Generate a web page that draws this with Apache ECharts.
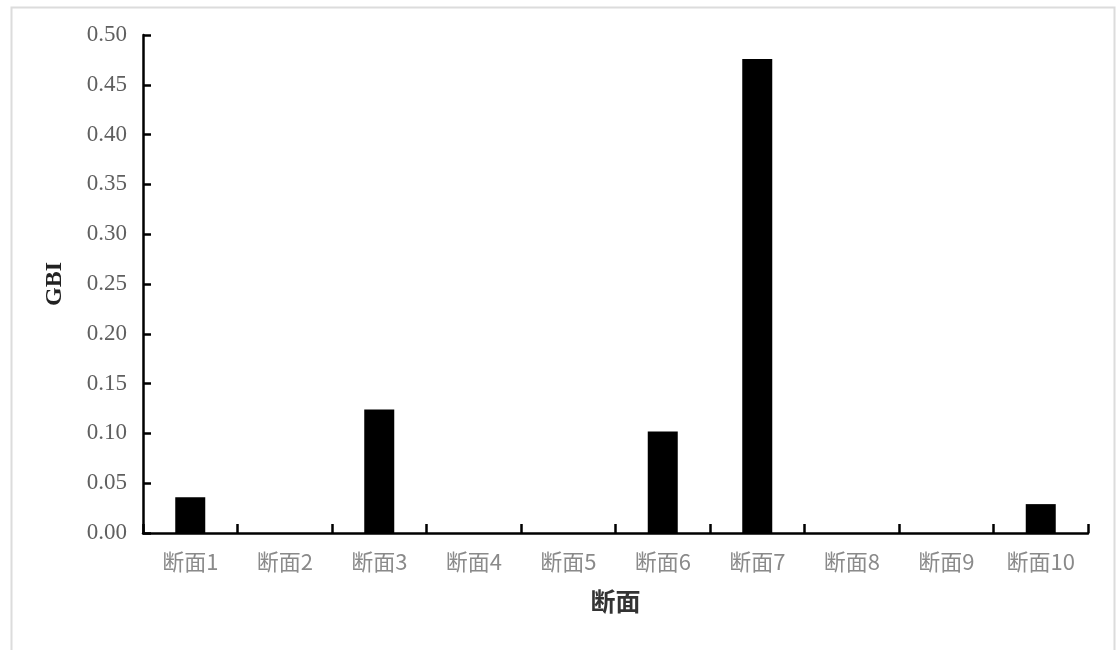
<!DOCTYPE html>
<html>
<head>
<meta charset="utf-8">
<script src="https://cdn.jsdelivr.net/npm/echarts@6/dist/echarts.min.js"></script>
<style>html,body{margin:0;padding:0;background:#fff;}#c{width:1117px;height:650px;}</style>
</head>
<body>
<div id="c"></div>
<script>
const categories = ['断面1','断面2','断面3','断面4','断面5','断面6','断面7','断面8','断面9','断面10'];
const gbiValues = [0.036, 0, 0.124, 0, 0, 0.102, 0.476, 0, 0, 0.029];
const xAxisName = '断面';
const yAxisName = 'GBI';

const chart = echarts.init(document.getElementById('c'));
chart.setOption({
  backgroundColor: '#fff',
  animation: false,
  graphic: [{
    type: 'rect', left: 9, top: 5, silent: true,
    shape: { width: 1103, height: 650 },
    style: { fill: 'none', stroke: '#dcdcdc', lineWidth: 2 }
  }],
  grid: { left: 143, right: 29, top: 35, bottom: 117, containLabel: false },
  xAxis: {
    type: 'category',
    data: categories,
    name: xAxisName,
    nameLocation: 'middle',
    nameGap: 59,
    nameTextStyle: { fontFamily: 'Liberation Serif, Noto Sans CJK SC', fontWeight: 'bold', fontSize: 25, color: '#333' },
    axisLine: { lineStyle: { color: '#000', width: 2.5 } },
    axisTick: { show: true, inside: true, length: 9, alignWithLabel: false, lineStyle: { color: '#000', width: 2.5 } },
    axisLabel: { margin: 18, fontSize: 22, color: '#8a8a8a', fontFamily: 'Noto Sans CJK SC, Liberation Serif' },
    splitLine: { show: false }
  },
  yAxis: {
    type: 'value',
    min: 0, max: 0.5, interval: 0.05,
    name: yAxisName,
    nameLocation: 'middle',
    nameGap: 76,
    nameTextStyle: { fontFamily: 'Liberation Serif', fontWeight: 'bold', fontSize: 24, color: '#222' },
    axisLine: { show: true, lineStyle: { color: '#000', width: 2.5 } },
    axisTick: { show: true, inside: true, length: 8, lineStyle: { color: '#000', width: 2.5 } },
    axisLabel: { margin: 16, fontSize: 23, color: '#5f5f5f', fontFamily: 'Liberation Serif', formatter: v => v.toFixed(2) },
    splitLine: { show: false }
  },
  series: [{
    type: 'bar',
    data: gbiValues,
    barWidth: 30,
    itemStyle: { color: '#000' }
  }]
});
</script>
</body>
</html>
